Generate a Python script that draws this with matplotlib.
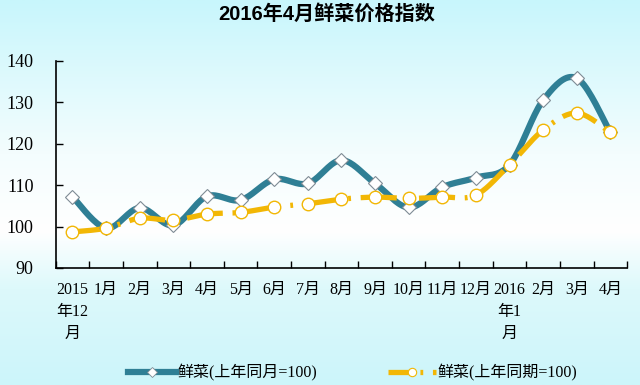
import matplotlib
matplotlib.use("Agg")
import matplotlib.pyplot as plt
import numpy as np
from matplotlib.colors import LinearSegmentedColormap

plt.rcParams["font.family"] = ["Liberation Serif", "Noto Sans CJK SC"]
plt.rcParams["lines.scale_dashes"] = False

categories = ["2015\n年12\n月", "1月", "2月", "3月", "4月", "5月", "6月", "7月",
              "8月", "9月", "10月", "11月", "12月", "2016\n年1\n月", "2月", "3月", "4月"]
same_month = [107.2, 99.6, 104.5, 100.3, 107.3, 106.4, 111.4, 110.4,
              116.0, 110.4, 104.6, 109.5, 111.8, 114.9, 130.5, 135.8, 122.7]
same_period = [98.7, 99.6, 102.0, 101.5, 103.0, 103.4, 104.7, 105.5,
               106.6, 107.1, 106.8, 107.1, 107.6, 114.9, 123.3, 127.4, 122.7]

blue = "#2F7F95"
gold = "#F2B705"


def smooth(y, n=20):
    # Catmull-Rom curve through the points, drawn in data coordinates
    y = np.asarray(y, dtype=float)
    x = np.arange(len(y), dtype=float)
    p = np.concatenate([[y[0]], y, [y[-1]]])
    px = np.concatenate([[x[0]], x, [x[-1]]])
    xs, ys = [], []
    t = np.linspace(0, 1, n, endpoint=False)
    for i in range(1, len(p) - 2):
        for arr, out in ((px, xs), (p, ys)):
            p0, p1, p2, p3 = arr[i - 1], arr[i], arr[i + 1], arr[i + 2]
            out.extend(0.5 * (2 * p1 + (-p0 + p2) * t
                              + (2 * p0 - 5 * p1 + 4 * p2 - p3) * t ** 2
                              + (-p0 + 3 * p1 - 3 * p2 + p3) * t ** 3))
    xs.append(x[-1])
    ys.append(y[-1])
    return np.array(xs), np.array(ys)


fig = plt.figure(figsize=(6.4, 3.85), dpi=100)

# background gradient: cyan at top, white in the middle, cyan at bottom
bg = fig.add_axes([0, 0, 1, 1], zorder=-10)
cmap = LinearSegmentedColormap.from_list(
    "bg", [(0.0, "#CCF5FA"), (0.25, "#DDF9FB"), (0.40, "#FFFFFF"),
           (0.60, "#F4FDFE"), (1.0, "#C8F6FC")])
bg.imshow(np.linspace(0, 1, 256).reshape(-1, 1), aspect="auto", cmap=cmap,
          origin="lower", extent=(0, 1, 0, 1))
bg.axis("off")

ax = fig.add_axes([0.087, 0.304, 0.893, 0.538])
ax.patch.set_alpha(0)

x = np.arange(len(categories))
sx, sy = smooth(same_month)
ax.plot(sx, sy, color=blue, lw=4.5, solid_capstyle="round", zorder=3)
ax.plot(x, same_month, ls="none", marker="D", ms=7.5, mfc="white",
        mec="#7F8C95", mew=0.8, zorder=4)

px_, py_ = smooth(same_period)
ax.plot(px_, py_, color=gold, lw=3.8, ls=(0, (26, 7, 2, 7)), zorder=3)
ax.plot(x, same_period, ls="none", marker="o", ms=9, mfc="white",
        mec=gold, mew=1.0, zorder=4)

# legend handles
ax.plot([], [], color=blue, lw=4.5, marker="D", ms=5, mfc="white",
        mec="#7F8C95", mew=0.6, label="鲜菜(上年同月=100)")
ax.plot([], [], color=gold, lw=3.8, ls=(0, (16, 7, 2, 7)), marker="o", ms=6,
        mfc="white", mec=gold, mew=0.8, label="鲜菜(上年同期=100)")
handles, labels = ax.get_legend_handles_labels()
fig.legend(handles[-2:], labels[-2:], loc="center", bbox_to_anchor=(0.551, 0.031),
           ncol=2, frameon=False, fontsize=11.5, handlelength=3.0,
           handletextpad=0.1, columnspacing=4.4, markerscale=1)

ax.set_xlim(-0.5, len(categories) - 0.5)
ax.set_ylim(90, 140)
ax.set_yticks(np.arange(90, 141, 10))
ax.tick_params(axis="y", direction="in", length=5, width=1, pad=16, labelsize=13)

ax.set_xticks(np.arange(len(categories) + 1) - 0.5)
ax.set_xticklabels([])
ax.set_xticks(x, minor=True)
ax.set_xticklabels(categories, minor=True, fontsize=11.5, va="top", linespacing=1.5)
ax.tick_params(axis="x", which="major", direction="in", length=5, width=1)
ax.tick_params(axis="x", which="minor", length=0, pad=10)

for side in ("top", "right"):
    ax.spines[side].set_visible(False)
for side in ("left", "bottom"):
    ax.spines[side].set_linewidth(1.2)

fig.text(0.51, 0.963, "2016年4月鲜菜价格指数", ha="center", va="center",
         fontsize=14.5, fontweight="bold",
         family=["Liberation Sans", "Noto Sans CJK SC"])

fig.savefig("out.png", dpi=100)
